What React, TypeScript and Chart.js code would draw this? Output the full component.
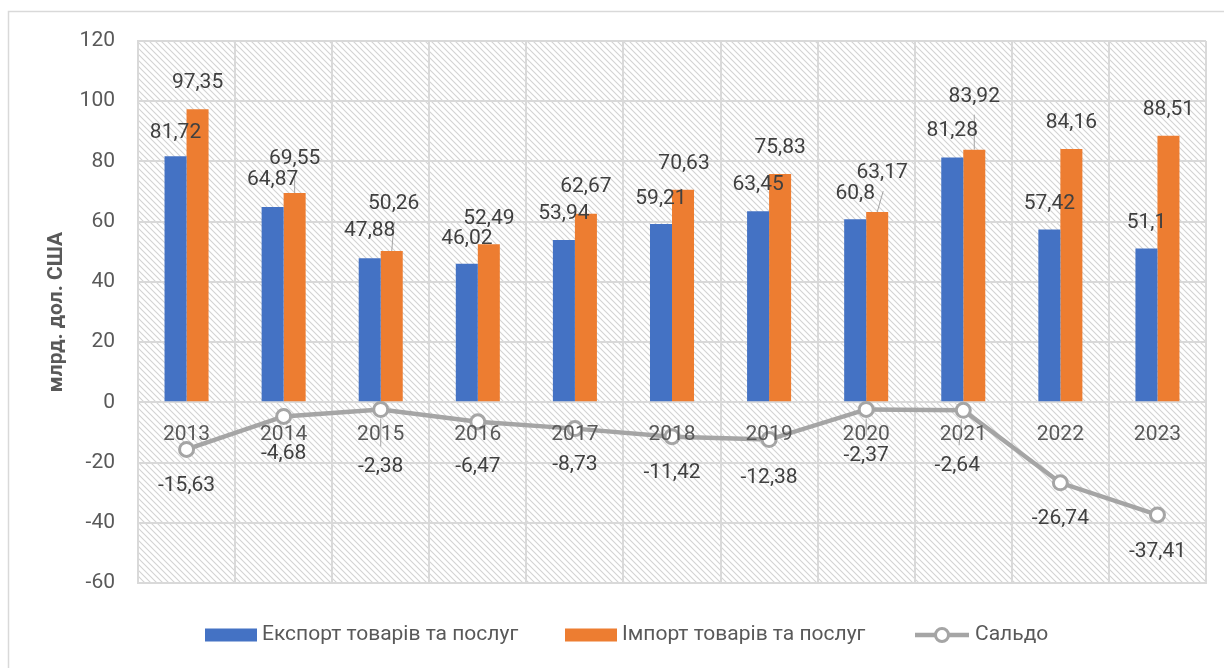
import React, { useEffect, useRef } from "react";
import { Chart, registerables } from "chart.js";

Chart.register(...registerables);

// ---------- data ----------
const years = ["2013", "2014", "2015", "2016", "2017", "2018", "2019", "2020", "2021", "2022", "2023"];
const exportValues = [81.72, 64.87, 47.88, 46.02, 53.94, 59.21, 63.45, 60.8, 81.28, 57.42, 51.1];
const importValues = [97.35, 69.55, 50.26, 52.49, 62.67, 70.63, 75.83, 63.17, 83.92, 84.16, 88.51];
const balanceValues = [-15.63, -4.68, -2.38, -6.47, -8.73, -11.42, -12.38, -2.37, -2.64, -26.74, -37.41];

const seriesNames = ["Експорт товарів та послуг", "Імпорт товарів та послуг", "Сальдо"];
const axisTitle = "млрд. дол. США";
const yMin = -60;
const yMax = 120;
const yStep = 20;

// ---------- label placement (px offsets, as moved in the original) ----------
const exportLabelDy = [-24, -27, -27, -25, -26, -25, -27, -26, -27, -26, -26];
const importLabelDx = [0, 0, 2, 0, 0, 1, 0, 5, 0, 0, 0];
const importLabelDy = [-26, -34, -47, -26, -27, -26, -26, -39, -53, -26, -26];
const importLeader = [false, true, true, false, false, false, false, true, true, false, false];
const balanceLabelDx = [0, 0, 0, 0, 0, 0, 0, 0, -6, 0, 0];
const balanceLabelDy = [36, 37, 57, 45, 36, 36, 38, 46, 55, 36, 37];
const balanceLeader = [false, false, true, false, false, false, false, true, true, false, false];

// ---------- styles ----------
const BLUE = "#4472C4";
const ORANGE = "#ED7D31";
const GRAY = "#A5A5A5";
const GRID = "#D9D9D9";
const LABEL = "#404040";
const AXIS_TEXT = "#595959";
const FONT = "Roboto, 'Open Sans', sans-serif";

const fmt = (v: number) => String(v).replace(".", ",");

const hatchPlugin = {
  id: "hatch",
  beforeDraw(chart: any) {
    const { ctx, chartArea: a } = chart;
    const s = 6;
    const tile = document.createElement("canvas");
    tile.width = s;
    tile.height = s;
    const t = tile.getContext("2d")!;
    t.fillStyle = "#ffffff";
    t.fillRect(0, 0, s, s);
    t.strokeStyle = "#d3d3d3";
    t.lineWidth = 1.1;
    t.beginPath();
    t.moveTo(-1, -1);
    t.lineTo(s + 1, s + 1);
    t.moveTo(-1, s - 1);
    t.lineTo(1, s + 1);
    t.moveTo(s - 1, -1);
    t.lineTo(s + 1, 1);
    t.stroke();
    const pat = ctx.createPattern(tile, "repeat");
    ctx.save();
    ctx.fillStyle = pat;
    ctx.fillRect(a.left, a.top, a.right - a.left, a.bottom - a.top);
    ctx.restore();

    // outer chart frame
    ctx.save();
    ctx.strokeStyle = GRID;
    ctx.lineWidth = 1.5;
    ctx.strokeRect(8.5, 11.5, chart.width + 20, chart.height + 20);
    ctx.restore();
  },
};

const labelsPlugin = {
  id: "labelsAndLegend",
  afterDatasetsDraw(chart: any) {
    const { ctx } = chart;
    const yScale = chart.scales.y;
    const zeroY = yScale.getPixelForValue(0);
    const expMeta = chart.getDatasetMeta(1);
    const impMeta = chart.getDatasetMeta(2);
    const balMeta = chart.getDatasetMeta(0);

    ctx.save();
    ctx.textAlign = "center";
    ctx.textBaseline = "middle";

    // category labels at the zero line
    ctx.font = `21px ${FONT}`;
    ctx.fillStyle = AXIS_TEXT;
    const xScale = chart.scales.x;
    years.forEach((y, i) => {
      ctx.fillText(y, xScale.getPixelForValue(i), zeroY + 32);
    });

    // leader lines
    ctx.strokeStyle = GRAY;
    ctx.lineWidth = 1;
    impMeta.data.forEach((el: any, i: number) => {
      if (!importLeader[i]) return;
      const lx = el.x + importLabelDx[i];
      const ly = el.y + importLabelDy[i];
      ctx.beginPath();
      ctx.moveTo(el.x, el.y);
      ctx.lineTo(lx + (lx - el.x) * 0.2, ly + 18);
      ctx.stroke();
    });
    balMeta.data.forEach((el: any, i: number) => {
      if (!balanceLeader[i]) return;
      const lx = el.x + balanceLabelDx[i];
      const ly = el.y + balanceLabelDy[i];
      ctx.beginPath();
      ctx.moveTo(el.x - (el.x - lx) * 0.3, el.y + 9);
      ctx.lineTo(lx + (el.x - lx) * 0.3, ly - 20);
      ctx.stroke();
    });

    // data labels
    ctx.font = `21px ${FONT}`;
    ctx.fillStyle = LABEL;
    expMeta.data.forEach((el: any, i: number) => {
      ctx.fillText(fmt(exportValues[i]), el.x, el.y + exportLabelDy[i]);
    });
    impMeta.data.forEach((el: any, i: number) => {
      ctx.fillText(fmt(importValues[i]), el.x + importLabelDx[i], el.y + importLabelDy[i]);
    });
    balMeta.data.forEach((el: any, i: number) => {
      ctx.fillText(fmt(balanceValues[i]), el.x + balanceLabelDx[i], el.y + balanceLabelDy[i]);
    });
    ctx.restore();
  },
  afterDraw(chart: any) {
    const { ctx } = chart;
    const cy = 635;
    ctx.save();
    ctx.font = `21px ${FONT}`;
    ctx.textBaseline = "middle";
    ctx.textAlign = "left";
    // export
    ctx.fillStyle = BLUE;
    ctx.fillRect(205, cy - 6.5, 52, 13);
    ctx.fillStyle = AXIS_TEXT;
    ctx.fillText(seriesNames[0], 262, cy);
    // import
    ctx.fillStyle = ORANGE;
    ctx.fillRect(565, cy - 6.5, 52, 13);
    ctx.fillStyle = AXIS_TEXT;
    ctx.fillText(seriesNames[1], 622, cy);
    // balance
    ctx.strokeStyle = GRAY;
    ctx.lineWidth = 4.5;
    ctx.beginPath();
    ctx.moveTo(915, cy);
    ctx.lineTo(969, cy);
    ctx.stroke();
    ctx.beginPath();
    ctx.arc(942, cy, 6.5, 0, Math.PI * 2);
    ctx.fillStyle = "#ffffff";
    ctx.fill();
    ctx.lineWidth = 3;
    ctx.stroke();
    ctx.fillStyle = AXIS_TEXT;
    ctx.fillText(seriesNames[2], 975, cy);
    ctx.restore();
  },
};

export default function App() {
  const ref = useRef<HTMLCanvasElement | null>(null);

  useEffect(() => {
    document.body.style.margin = "0";
    const canvas = ref.current!;
    const chart = new Chart(canvas, {
      type: "bar",
      data: {
        labels: years,
        datasets: [
          {
            type: "line",
            label: seriesNames[2],
            data: balanceValues,
            borderColor: GRAY,
            borderWidth: 4.5,
            pointRadius: 7,
            pointBorderWidth: 3,
            pointBackgroundColor: "#ffffff",
            pointBorderColor: GRAY,
            tension: 0,
            order: 0,
          } as any,
          {
            label: seriesNames[0],
            data: exportValues,
            backgroundColor: BLUE,
            borderWidth: 0,
            categoryPercentage: 0.4535,
            barPercentage: 1,
            order: 1,
          },
          {
            label: seriesNames[1],
            data: importValues,
            backgroundColor: ORANGE,
            borderWidth: 0,
            categoryPercentage: 0.4535,
            barPercentage: 1,
            order: 1,
          },
        ],
      },
      options: {
        animation: false,
        responsive: false,
        maintainAspectRatio: false,
        devicePixelRatio: 1,
        layout: { padding: { left: 0, right: 18, top: 41, bottom: 85 } },
        plugins: {
          legend: { display: false },
          tooltip: { enabled: false },
        },
        scales: {
          x: {
            offset: true,
            ticks: { display: false },
            grid: { color: GRID, lineWidth: 2, offset: true, drawTicks: false },
            border: { display: true, color: GRID, width: 2 },
            afterFit: (axis: any) => {
              axis.height = 0;
            },
          },
          y: {
            min: yMin,
            max: yMax,
            ticks: {
              stepSize: yStep,
              padding: 23,
              color: AXIS_TEXT,
              font: { family: FONT, size: 21 },
              callback: (v: any) => String(v),
            },
            grid: { color: GRID, lineWidth: 2, drawTicks: false },
            border: { display: true, color: GRID, width: 2 },
            title: {
              display: true,
              text: axisTitle,
              color: AXIS_TEXT,
              font: { family: FONT, size: 21, weight: "bold" },
              padding: { top: 44, bottom: 0 },
            },
            afterFit: (axis: any) => {
              axis.width = 138;
            },
          },
        },
      },
      plugins: [hatchPlugin, labelsPlugin],
    });
    return () => chart.destroy();
  }, []);

  return (
    <div style={{ width: 1224, height: 668 }}>
      <canvas ref={ref} width={1224} height={668} style={{ display: "block" }} />
    </div>
  );
}
